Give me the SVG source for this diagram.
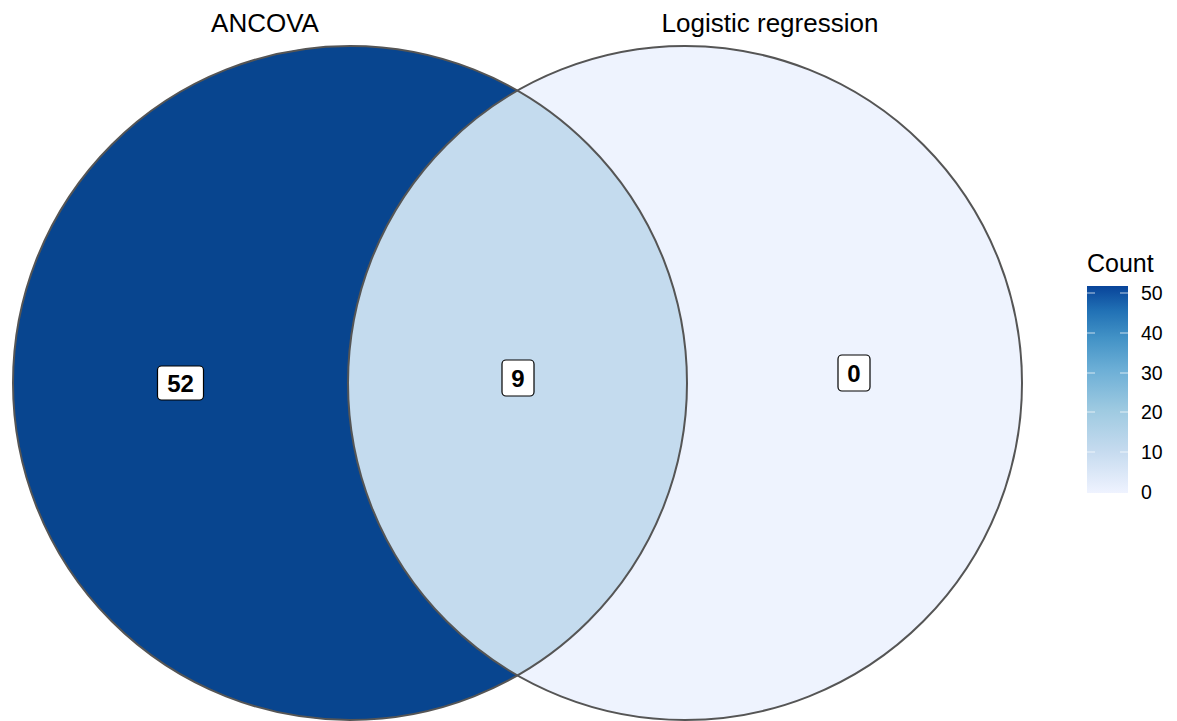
<svg xmlns="http://www.w3.org/2000/svg" width="1177" height="721" viewBox="0 0 1177 721">
<defs>
<linearGradient id="lg" x1="0" y1="1" x2="0" y2="0">
<stop offset="0" stop-color="#EFF3FF"/>
<stop offset="0.2" stop-color="#C6DBEF"/>
<stop offset="0.4" stop-color="#9ECAE1"/>
<stop offset="0.6" stop-color="#6BAED6"/>
<stop offset="0.75" stop-color="#4292C6"/>
<stop offset="0.88" stop-color="#2171B5"/>
<stop offset="1" stop-color="#08449A"/>
</linearGradient>
<clipPath id="cl"><circle cx="350" cy="383" r="337"/></clipPath>
</defs>
<style>
.t{font-family:"Liberation Sans",Arial,sans-serif;fill:#000}
.lab{font-family:"Liberation Sans",Arial,sans-serif;font-weight:bold;font-size:24px;text-anchor:middle;fill:#000}
.box{fill:#fff;stroke:#000;stroke-width:1.2}
.edge{fill:none;stroke:#555;stroke-width:2}
.tick{stroke:#fff;stroke-width:1.2;opacity:0.6}
</style>
<rect width="1177" height="721" fill="#fff"/>
<g id="regions">
<circle id="left" cx="350" cy="383" r="337" fill="#08458F"/>
<circle id="right" cx="685" cy="383" r="337" fill="#EEF3FE"/>
<circle id="inter" cx="685" cy="383" r="337" fill="#C4DBEE" clip-path="url(#cl)"/>
<circle cx="350" cy="383" r="337" class="edge"/>
<circle cx="685" cy="383" r="337" class="edge"/>
</g>
<g id="set-labels">
<text class="t" x="265" y="32" font-size="26" text-anchor="middle">ANCOVA</text>
<text class="t" x="770" y="32" font-size="26" text-anchor="middle">Logistic regression</text>
</g>
<g id="label-52">
<rect class="box" x="157.5" y="366" width="46" height="34" rx="4"/>
<text class="lab" x="180.5" y="391.5">52</text>
</g>
<g id="label-9">
<rect class="box" x="502" y="360" width="32" height="36" rx="4"/>
<text class="lab" x="518" y="386.5">9</text>
</g>
<g id="label-0">
<rect class="box" x="838" y="355" width="32" height="36" rx="4"/>
<text class="lab" x="854" y="381.5">0</text>
</g>
<g id="legend">
<text class="t" x="1087" y="272" font-size="25">Count</text>
<rect x="1087" y="286" width="41" height="207" fill="url(#lg)"/>
<g>
<line class="tick" x1="1087" x2="1095" y1="293" y2="293"/><line class="tick" x1="1120" x2="1128" y1="293" y2="293"/>
<line class="tick" x1="1087" x2="1095" y1="333" y2="333"/><line class="tick" x1="1120" x2="1128" y1="333" y2="333"/>
<line class="tick" x1="1087" x2="1095" y1="373" y2="373"/><line class="tick" x1="1120" x2="1128" y1="373" y2="373"/>
<line class="tick" x1="1087" x2="1095" y1="412" y2="412"/><line class="tick" x1="1120" x2="1128" y1="412" y2="412"/>
<line class="tick" x1="1087" x2="1095" y1="452" y2="452"/><line class="tick" x1="1120" x2="1128" y1="452" y2="452"/>
</g>
<g font-size="19.5">
<text class="t" x="1141" y="300">50</text>
<text class="t" x="1141" y="340">40</text>
<text class="t" x="1141" y="380">30</text>
<text class="t" x="1141" y="419">20</text>
<text class="t" x="1141" y="459">10</text>
<text class="t" x="1141" y="499">0</text>
</g>
</g>
</svg>
